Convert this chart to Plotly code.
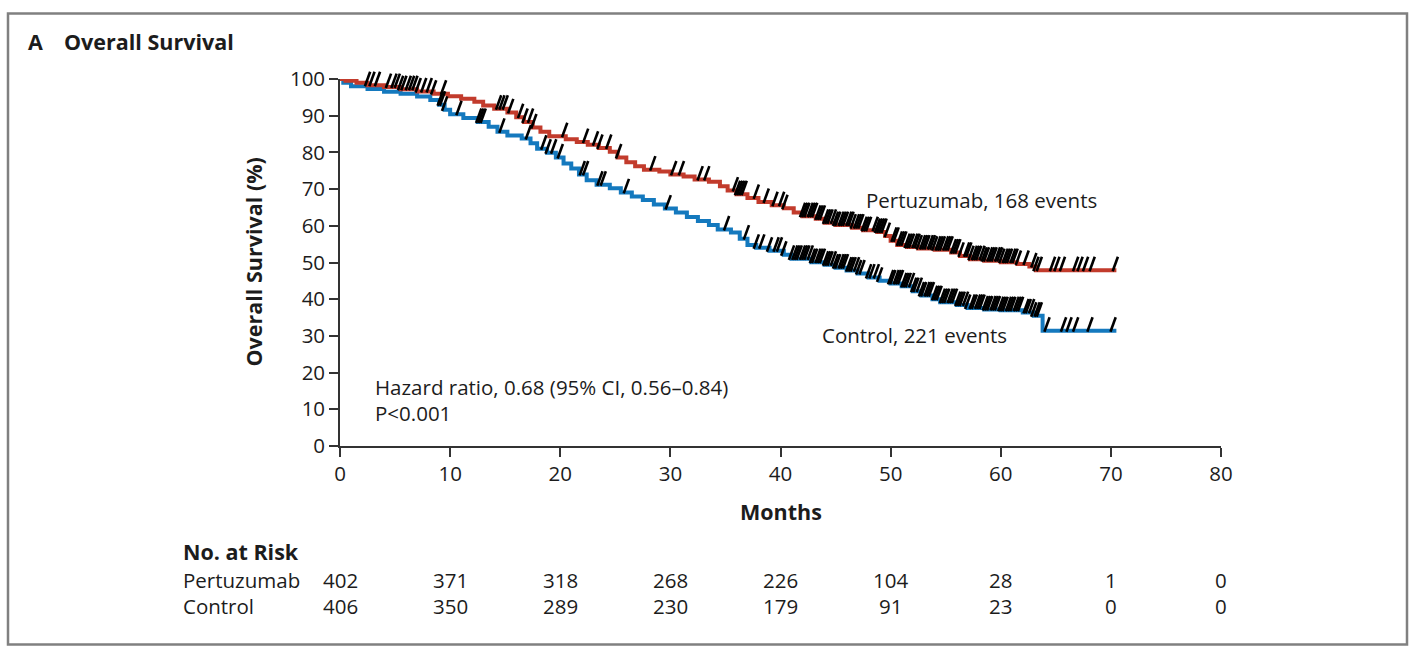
import numpy as np
import plotly.graph_objects as go

# Kaplan-Meier step knots (months, % surviving)
pert_t = [0, 0.5, 1.5, 2.5, 4.0, 5.5, 7.0, 8.5, 9.8, 11.0, 12.2, 13.0, 14.0, 15.2, 16.0,
          16.7, 17.5, 18.2, 19.0, 20.5, 21.5, 22.5, 23.5, 24.5, 25.2, 26.0, 26.8, 27.6,
          29.0, 30.0, 31.2, 32.2, 33.5, 34.5, 35.2, 36.0, 37.0, 38.0, 39.2, 40.3, 41.2,
          42.0, 43.2, 44.0, 45.0, 46.5, 47.5, 48.8, 49.5, 50.0, 50.6, 51.5, 52.5, 54.0,
          55.5, 56.3, 57.2, 58.5, 60.0, 61.5, 62.6, 63.2, 70.5]
pert_s = [100, 99.5, 99.0, 98.3, 97.8, 97.2, 96.6, 96.0, 95.3, 94.6, 93.8, 92.8, 91.9,
          90.9, 89.6, 88.3, 86.8, 85.6, 84.4, 83.6, 82.8, 82.1, 81.2, 80.2, 78.6, 77.3,
          76.2, 75.3, 74.8, 74.0, 73.4, 72.6, 72.0, 70.8, 69.6, 68.6, 67.6, 66.5, 65.6,
          64.8, 63.6, 62.6, 61.9, 60.8, 60.2, 59.5, 58.8, 58.3, 57.2, 55.9, 54.8, 54.2,
          53.8, 53.5, 52.7, 51.8, 50.9, 50.5, 50.1, 49.6, 48.9, 47.9, 47.9]

ctrl_t = [0, 0.3, 1.0, 2.5, 4.0, 5.5, 7.0, 8.2, 9.0, 9.5, 10.0, 11.2, 12.5, 13.5, 14.3,
          15.2, 16.5, 17.3, 17.9, 18.8, 19.6, 20.3, 21.0, 21.7, 22.4, 23.3, 24.5, 25.5,
          26.5, 27.5, 28.5, 29.5, 30.5, 31.5, 32.5, 33.5, 34.3, 35.5, 36.3, 37.0, 37.8,
          39.0, 40.3, 41.0, 42.8, 44.0, 45.0, 46.0, 47.0, 48.0, 49.0, 50.0, 51.0, 52.0,
          52.8, 53.8, 54.5, 56.0, 57.0, 58.5, 60.0, 62.0, 63.0, 63.8, 70.5]
ctrl_s = [100, 99.0, 98.0, 97.3, 96.5, 96.0, 95.2, 94.3, 93.0, 91.6, 90.4, 89.4, 88.3,
          87.0, 85.6, 84.6, 83.8, 82.5, 81.0, 79.9, 78.6, 77.0, 75.6, 74.0, 72.4, 71.2,
          70.2, 69.1, 68.0, 67.0, 65.8, 64.7, 63.6, 62.4, 61.3, 60.2, 59.0, 58.2, 56.5,
          54.8, 54.0, 53.2, 52.1, 51.0, 50.1, 49.4, 48.6, 47.8, 47.0, 45.9, 45.0, 44.3,
          43.5, 42.2, 41.0, 40.0, 39.2, 38.4, 37.6, 37.2, 37.0, 36.4, 35.5, 31.4, 31.4]

# Censoring times (months)
pert_cens = [0.4, 1.0, 1.4, 1.7, 2.0, 2.5, 2.9, 3.4, 4.4, 4.9, 5.2, 5.5, 5.8, 6.2, 6.5,
             6.8, 7.1, 7.6, 8.1, 8.5, 9.4, 14.4, 14.7, 15.0, 15.5, 16.4, 16.8, 17.3, 17.6,
             20.4, 22.3, 23.2, 23.6, 24.4, 25.3, 28.4, 30.3, 31.0, 32.7, 33.3, 35.9, 36.1,
             36.3, 36.5, 36.7, 37.8, 38.7, 39.5, 40.1, 40.4, 42.0, 42.2, 42.4, 42.7, 42.9,
             43.1, 43.4, 43.6, 43.8, 44.1, 44.3, 44.5, 44.8, 45.0, 45.2, 45.5, 45.7, 45.9,
             46.2, 46.4, 46.6, 46.9, 47.1, 47.3, 47.6, 47.8, 48.0, 48.6, 48.8, 49.0, 49.2,
             49.4, 49.7, 50.3, 50.5, 50.8, 51.0, 51.2, 51.5, 51.7, 51.9, 52.2, 52.4, 52.6,
             52.9, 53.1, 53.3, 53.6, 53.8, 54.0, 54.3, 54.5, 54.7, 55.0, 55.2, 55.4, 55.7,
             55.9, 56.1, 56.4, 56.9, 57.1, 57.3, 57.6, 57.8, 58.0, 58.3, 58.5, 58.7, 59.0,
             59.2, 59.4, 59.7, 59.9, 60.1, 60.4, 60.6, 60.8, 61.1, 61.3, 61.6, 62.3, 63.0,
             63.2, 63.5, 64.7, 65.1, 65.6, 66.8, 67.2, 67.7, 68.3, 70.4]
ctrl_cens = [9.1, 9.3, 9.5, 10.8, 12.6, 12.8, 13.0, 14.7, 17.1, 18.5, 18.9, 19.4, 20.0,
             22.0, 22.3, 23.6, 23.9, 26.0, 29.8, 35.1, 36.9, 37.8, 38.3, 39.0, 39.6, 39.9,
             40.3, 41.0, 41.3, 41.5, 41.7, 42.0, 42.2, 42.4, 42.7, 42.9, 43.1, 43.4, 43.6,
             43.8, 44.1, 44.3, 44.5, 44.8, 45.0, 45.2, 45.5, 45.7, 45.9, 46.2, 46.4, 46.6,
             46.9, 47.1, 47.4, 48.0, 48.3, 48.7, 49.0, 50.0, 50.2, 50.5, 50.7, 50.9, 51.2,
             51.4, 51.6, 51.9, 52.1, 52.3, 52.6, 52.8, 53.0, 53.3, 53.5, 53.7, 54.0, 54.2,
             54.4, 54.7, 54.9, 55.1, 55.4, 55.6, 55.8, 56.1, 56.3, 56.5, 56.8, 57.0, 57.4,
             57.6, 57.9, 58.1, 58.3, 58.6, 58.8, 59.0, 59.3, 59.5, 59.7, 60.0, 60.2, 60.4,
             60.7, 60.9, 61.1, 61.4, 61.6, 61.8, 62.3, 62.5, 62.8, 63.0, 63.3, 63.5, 64.2,
             65.7, 66.2, 66.8, 68.1, 70.2]

risk_months = [0, 10, 20, 30, 40, 50, 60, 70, 80]
risk_pert = [402, 371, 318, 268, 226, 104, 28, 1, 0]
risk_ctrl = [406, 350, 289, 230, 179, 91, 23, 0, 0]

RED = "#C23B2C"
BLUE = "#1479BE"
TXT = "#1c1c1c"
FONT = "Open Sans"
REG = 20.5      # regular text size
BOLD = 21.5     # bold heading size


def step_value(knots_t, knots_s, t):
    idx = np.searchsorted(np.asarray(knots_t), np.asarray(t), side="right") - 1
    return np.asarray(knots_s)[idx]


fig = go.Figure()
for kt, ks, color in [(ctrl_t, ctrl_s, BLUE), (pert_t, pert_s, RED)]:
    fig.add_trace(go.Scatter(x=kt, y=ks, mode="lines", line=dict(color=color, width=4, shape="hv"),
                             hoverinfo="skip", showlegend=False))

# censor ticks sit just above each curve
lift = 1.7
for kt, ks, ct in [(ctrl_t, ctrl_s, ctrl_cens), (pert_t, pert_s, pert_cens)]:
    fig.add_trace(go.Scatter(
        x=ct, y=step_value(kt, ks, ct) + lift, mode="markers", cliponaxis=False,
        marker=dict(symbol="line-ns", angle=20, size=11, color="black",
                    line=dict(color="black", width=2.6)),
        hoverinfo="skip", showlegend=False))

axis_common = dict(showline=True, linecolor="#333333", linewidth=1.6, ticks="outside",
                   ticklen=9, tickwidth=1.6, tickcolor="#333333", showgrid=False, zeroline=False,
                   tickfont=dict(family=FONT, size=REG, color=TXT))
fig.update_xaxes(range=[0, 80], tickvals=list(range(0, 81, 10)), **axis_common)
fig.update_yaxes(range=[0, 100], tickvals=list(range(0, 101, 10)), **axis_common)

ann = []


def text(x, y, s, size=REG, bold=False, xanchor="left", xref="paper", yref="paper", angle=0):
    ann.append(dict(x=x, y=y, xref=xref, yref=yref, text=f"<b>{s}</b>" if bold else s,
                    showarrow=False, xanchor=xanchor, yanchor="middle", textangle=angle,
                    font=dict(family=FONT, size=size, color=TXT)))


W, H = 1410, 650
L, R, T, B = 340, 189, 79, 204
pw, ph = W - L - R, H - T - B


def px(xp):
    return (xp - L) / pw


def py(yp):
    return (H - B - yp) / ph


text(px(26), py(42), "A", size=BOLD, bold=True)
text(px(62), py(42), "Overall Survival", size=BOLD, bold=True)
text(px(253), 0.5, "Overall Survival (%)", size=BOLD, bold=True, xanchor="center", angle=-90)
text(0.5, py(511), "Months", size=BOLD, bold=True, xanchor="center")
text(47.6, 67.0, "Pertuzumab, 168 events", xref="x", yref="y")
text(43.6, 30.2, "Control, 221 events", xref="x", yref="y")
text(3.0, 16.2, "Hazard ratio, 0.68 (95% CI, 0.56\u20130.84)", xref="x", yref="y")
text(3.0, 9.0, "P&lt;0.001", xref="x", yref="y")

text(px(181), py(551), "No. at Risk", size=BOLD, bold=True)
text(px(181), py(580), "Pertuzumab")
text(px(181), py(606), "Control")
for m, a, b in zip(risk_months, risk_pert, risk_ctrl):
    text(m, py(580), str(a), xanchor="center", xref="x")
    text(m, py(606), str(b), xanchor="center", xref="x")

# outer panel frame
frame = dict(type="rect", xref="paper", yref="paper",
             x0=px(8), x1=px(1407), y0=py(644.5), y1=py(13.5),
             line=dict(color="#808080", width=2.5), fillcolor="rgba(0,0,0,0)")

fig.update_layout(width=W, height=H, margin=dict(l=L, r=R, t=T, b=B),
                  paper_bgcolor="white", plot_bgcolor="white",
                  annotations=ann, shapes=[frame], font=dict(family=FONT, color=TXT))

fig.write_html("out.html")
